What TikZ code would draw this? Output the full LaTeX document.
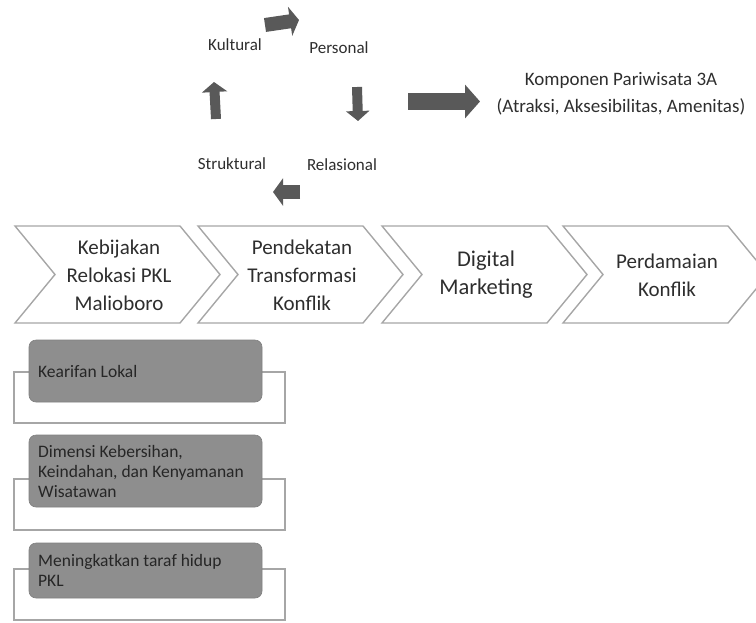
\documentclass[tikz,border=0pt]{standalone}
\usepackage{fontspec}
\setmainfont{Carlito}
\usetikzlibrary{arrows.meta}

\definecolor{txtgray}{HTML}{2E2E2E}
\definecolor{arrgray}{HTML}{595959}
\definecolor{linegray}{HTML}{A6A6A6}
\definecolor{boxgray}{HTML}{8E8E8E}

\begin{document}
\begin{tikzpicture}[x=1pt, y=-1pt,
  lbl/.style={text=txtgray, font=\fontsize{17}{20}\selectfont},
  cyc/.style={draw=arrgray},
  chev/.style={draw=linegray, line width=1.4pt, line join=miter},
  chevtxt/.style={text=txtgray, align=center, inner sep=0pt},
  outbox/.style={draw=linegray, line width=1.2pt, fill=white},
  graybox/.style={fill=boxgray, draw=boxgray!90!black, line width=0.6pt, rounded corners=7pt},
  itemtxt/.style={text=black!85, align=left, inner xsep=9pt, inner ysep=0pt,
    font=\fontsize{17.5}{20}\selectfont}]
  \useasboundingbox (0,0) rectangle (756,622);

  % cycle of the four dimensions
  \node[lbl] (kult) at (235,45) {Kultural};
  \node[lbl] (pers) at (339,48) {Personal};
  \node[lbl] (rela) at (342,165) {Relasional};
  \node[lbl] (strk) at (232,164) {Struktural};
  \coordinate (a1s) at (265,25);  \coordinate (a1e) at (299,20);
  \coordinate (a2s) at (357,87);  \coordinate (a2e) at (358,121);
  \coordinate (a3s) at (300,192); \coordinate (a3e) at (273,192);
  \coordinate (a4s) at (216,119); \coordinate (a4e) at (214,82);
  \draw[cyc, line width=14pt, -{Triangle[length=9pt,width=29pt]}] (a1s) -- (a1e);
  \draw[cyc, line width=10pt, -{Triangle[length=10pt,width=23pt]}] (a2s) -- (a2e);
  \draw[cyc, line width=14pt, -{Triangle[length=10pt,width=27pt]}] (a3s) -- (a3e);
  \draw[cyc, line width=10pt, -{Triangle[length=10pt,width=25pt]}] (a4s) -- (a4e);

  % big arrow to the 3A components
  \node[text=txtgray, align=center, font=\fontsize{19}{27}\selectfont] (komp) at (621,94)
    {Komponen Pariwisata 3A\\(Atraksi, Aksesibilitas, Amenitas)};
  \coordinate (bigs) at (408,101.5);
  \coordinate (bige) at (480,101.5);
  \draw[cyc, line width=17pt, -{Triangle[length=15pt,width=33pt]}] (bigs) -- (bige);

  % process chevrons
  \foreach \i/\x/\fs/\txt in {1/15/21/{Kebijakan\\Relokasi PKL\\Malioboro},
      2/198/21/{Pendekatan\\Transformasi\\Konflik},
      3/382/22.5/{Digital\\Marketing},
      4/563/21/{Perdamaian\\Konflik}}{
    \draw[chev] (\x,226) -- ++(165,0) -- ++(40,48.5) -- ++(-40,48.5)
      -- ++(-165,0) -- ++(40,-48.5) -- cycle;
    \node[chevtxt, font=\fontsize{\fs}{28}\selectfont] (chev\i) at (\x+104,275) {\txt};
  }

  % supporting items
  \foreach \i/\gt/\gb/\ot/\txt in {1/340/402/372/{Kearifan Lokal},
      2/435/507/479/{Dimensi Kebersihan,\\Keindahan, dan Kenyamanan\\Wisatawan},
      3/543/598/569/{Meningkatkan taraf hidup\\PKL}}{
    \draw[outbox] (14,\ot) rectangle (285,\ot+51);
    \draw[graybox] (29,\gt) rectangle (262,\gb);
    \node[itemtxt, anchor=west] (item\i) at (29,{(\gt+\gb)/2}) {\txt};
  }
\end{tikzpicture}
\end{document}
